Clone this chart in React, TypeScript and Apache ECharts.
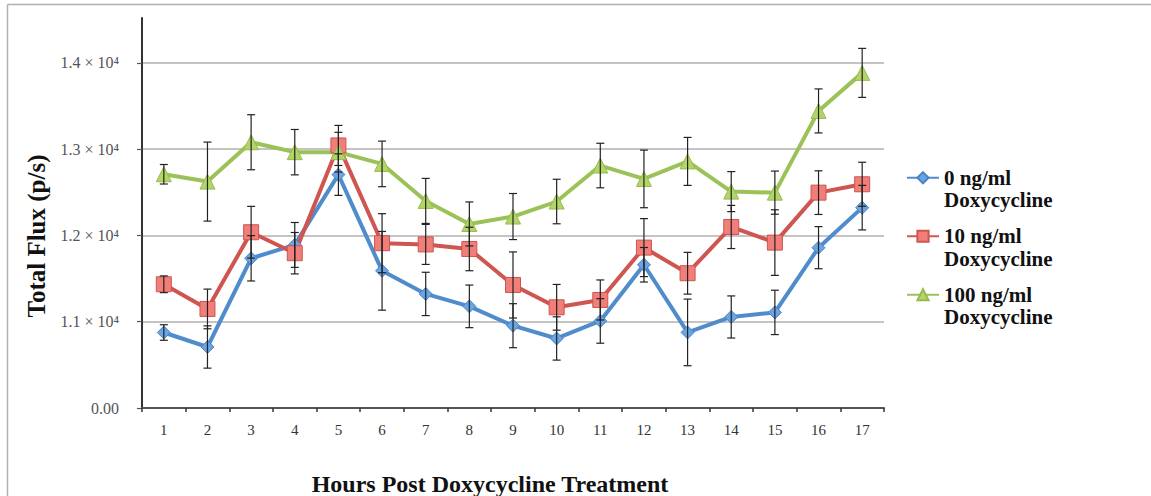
import React, { useEffect, useRef } from "react";
import * as echarts from "echarts";

const hours = ["1","2","3","4","5","6","7","8","9","10","11","12","13","14","15","16","17"];
const seriesNames = ["0 ng/ml Doxycycline", "10 ng/ml Doxycycline", "100 ng/ml Doxycycline"];

const flux0 = [10875, 10707, 11735, 11890, 12705, 11590, 11322, 11178, 10954, 10806, 11009, 11660, 10876, 11055, 11108, 11858, 12322];
const err0 = [90, 245, 263, 260, 241, 456, 251, 247, 255, 251, 258, 200, 386, 244, 257, 244, 258];

const flux10 = [11434, 11148, 12037, 11794, 13043, 11910, 11896, 11843, 11426, 11167, 11252, 11859, 11562, 12098, 11917, 12496, 12593];
const err10 = [97, 230, 300, 240, 232, 342, 232, 252, 383, 265, 232, 336, 242, 250, 380, 253, 255];

const flux100 = [12709, 12624, 13080, 12965, 12965, 12829, 12400, 12133, 12219, 12393, 12810, 12655, 12858, 12508, 12496, 13443, 13884];
const err100 = [113, 458, 319, 263, 230, 264, 261, 255, 267, 258, 258, 334, 278, 232, 250, 255, 284];

const yMin = 10000;
const yMax = 14520;
const yStep = 1000;

const FONT = "'Liberation Serif', 'Times New Roman', serif";

const lineColors = ["#4f8ccb", "#cf5650", "#9bc257"];
const markerFills = ["#6aa4e2", "#f17e79", "#b2d566"];
const markerBorders = ["#4a84c2", "#cc5551", "#97bb52"];
const symbols = ["diamond", "rect", "triangle"];
const symbolSizes = [13, 15, 15];

function errData(vals: number[], errs: number[]) {
  return vals.map((v, i) => [i, v - errs[i], v + errs[i]]);
}

export default function App() {
  const ref = useRef<HTMLDivElement>(null);
  useEffect(() => {
    if (!ref.current) return;
    const chart = echarts.init(ref.current, null, { renderer: "svg" });
    const values = [flux0, flux10, flux100];
    const errs = [err0, err10, err100];

    const lineSeries = values.map((vals, k) => ({
      name: seriesNames[k],
      type: "line",
      data: vals,
      symbol: symbols[k],
      symbolSize: symbolSizes[k],
      z: 3,
      lineStyle: { color: lineColors[k], width: 4 },
      itemStyle: { color: markerFills[k], borderColor: markerBorders[k], borderWidth: 1 },
    }));

    const errSeries = values.map((vals, k) => ({
      name: "err" + k,
      type: "custom",
      z: 4,
      silent: true,
      data: errData(vals, errs[k]),
      renderItem: (params: any, api: any) => {
        const x = api.value(0);
        const lo = api.coord([x, api.value(1)]);
        const hi = api.coord([x, api.value(2)]);
        const w = 4;
        const st = { stroke: "#222", lineWidth: 1.2 };
        return {
          type: "group",
          children: [
            { type: "line", shape: { x1: hi[0], y1: hi[1], x2: lo[0], y2: lo[1] }, style: st },
            { type: "line", shape: { x1: hi[0] - w, y1: hi[1], x2: hi[0] + w, y2: hi[1] }, style: st },
            { type: "line", shape: { x1: lo[0] - w, y1: lo[1], x2: lo[0] + w, y2: lo[1] }, style: st },
          ],
        };
      },
    }));

    chart.setOption({
      animation: false,
      backgroundColor: "#ffffff",
      textStyle: { fontFamily: FONT },
      graphic: [
        { type: "line", shape: { x1: 7.5, y1: 4.5, x2: 1151, y2: 4.5 }, style: { stroke: "#b0b0b0", lineWidth: 1.5 } },
        { type: "line", shape: { x1: 7.5, y1: 4.5, x2: 7.5, y2: 496 }, style: { stroke: "#b0b0b0", lineWidth: 1.5 } },
      ],
      grid: { left: 142, right: 267, top: 18, bottom: 88, containLabel: false, outerBoundsMode: "none" },
      legend: {
        data: seriesNames,
        orient: "vertical",
        left: 906,
        top: 144,
        padding: 0,
        itemWidth: 32,
        itemHeight: 14,
        itemGap: -9,
        formatter: (n: string) => "\n" + n.replace(" Doxycycline", "\nDoxycycline"),
        textStyle: {
          fontFamily: FONT,
          fontSize: 21,
          fontWeight: "bold",
          color: "#111",
          lineHeight: 22.5,
        },
      },
      xAxis: {
        type: "category",
        data: hours,
        boundaryGap: true,
        name: "Hours Post Doxycycline Treatment",
        nameLocation: "middle",
        nameGap: 64,
        nameTextStyle: { fontFamily: FONT, fontSize: 24, fontWeight: "bold", color: "#111", padding: [0, 46, 0, 0] },
        axisLine: { lineStyle: { color: "#555", width: 2 } },
        axisTick: { show: true, alignWithLabel: false, length: 4, lineStyle: { color: "#333", width: 1.5 } },
        axisLabel: { fontFamily: FONT, fontSize: 15, color: "#333", margin: 14 },
        splitLine: { show: false },
      },
      yAxis: {
        type: "value",
        min: yMin,
        max: yMax,
        interval: yStep,
        name: "Total Flux (p/s)",
        nameLocation: "middle",
        nameGap: 92,
        nameTextStyle: { fontFamily: FONT, fontSize: 25, fontWeight: "bold", color: "#111", padding: [0, 46, 0, 0] },
        axisLine: { show: true, lineStyle: { color: "#333", width: 2 } },
        axisTick: { show: true, length: 5, lineStyle: { color: "#555", width: 1.2 } },
        axisLabel: {
          fontFamily: FONT,
          fontSize: 16,
          color: "#555",
          margin: 23,
          showMaxLabel: false,
          formatter: (v: number) => {
            if (v === yMin) return "0.00";
            if (v % yStep !== 0) return "";
            return (v / 10000).toFixed(1) + " × 10⁴";
          },
        },
        splitLine: { show: true, showMinLine: false, showMaxLine: false, lineStyle: { color: "#c4c4c4", width: 2 } },
      },
      series: [...lineSeries, ...errSeries],
    });
    return () => chart.dispose();
  }, []);
  return <div ref={ref} style={{ width: 1151, height: 496, position: "absolute", left: 0, top: 0 }} />;
}
